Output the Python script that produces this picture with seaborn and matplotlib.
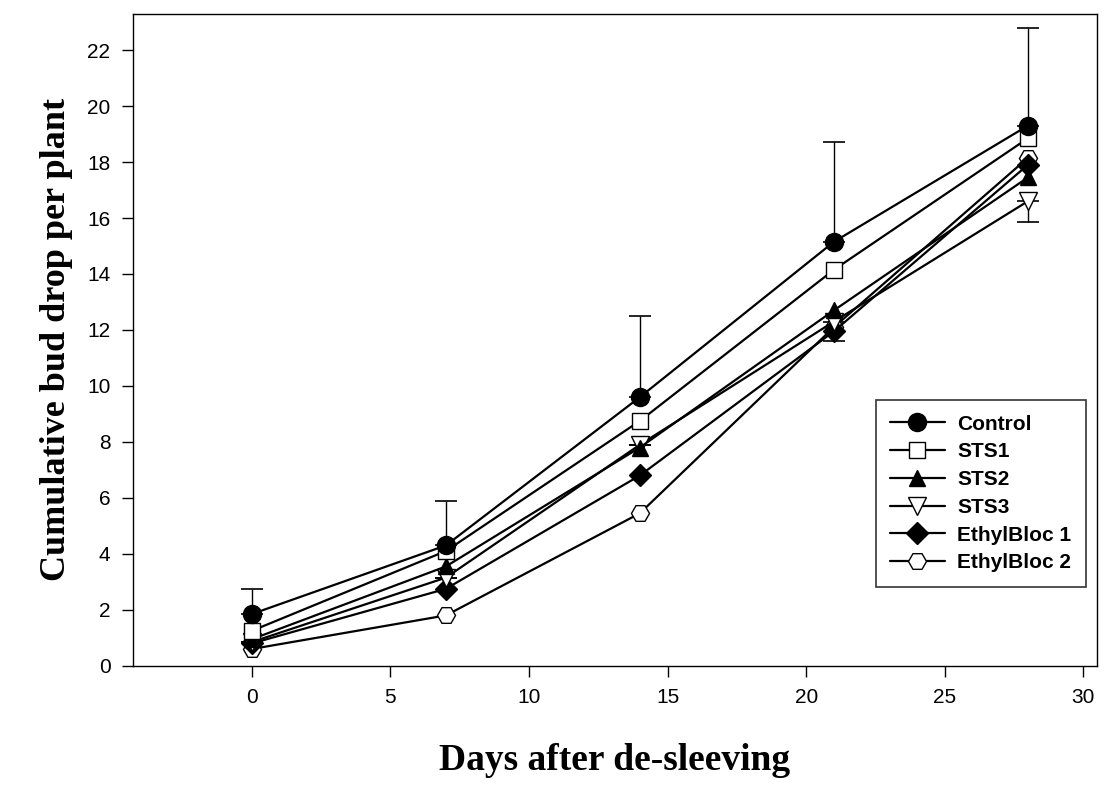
import matplotlib
matplotlib.use('Agg')
import matplotlib.pyplot as plt
import pandas as pd
import seaborn as sns

days = [0, 7, 14, 21, 28]

control = [1.85, 4.3, 9.6, 15.15, 19.3]
sts1 = [1.25, 4.1, 8.75, 14.15, 18.85]
sts2 = [0.95, 3.55, 7.8, 12.7, 17.45]
sts3 = [0.85, 3.15, 7.9, 12.3, 16.6]
ethyl1 = [0.8, 2.75, 6.8, 11.95, 17.9]
ethyl2 = [0.6, 1.8, 5.45, 12.1, 18.15]

# error bars visible in the figure (control up, STS3 down)
control_err_up = [0.9, 1.6, 2.9, 3.55, 3.5]
sts3_err_down = [0, 0, 0, 0.7, 0.75]

treatments = ['Control', 'STS1', 'STS2', 'STS3', 'EthylBloc 1', 'EthylBloc 2']
series = [control, sts1, sts2, sts3, ethyl1, ethyl2]
markers = ['o', 's', '^', 'v', 'D', 'H']
fills = ['black', 'white', 'black', 'white', 'black', 'white']
msizes = [13, 12, 12, 13, 11, 13]

df = pd.DataFrame({
    'day': days * len(treatments),
    'drop': sum(series, []),
    'treatment': [t for t in treatments for _ in days],
})

sns.set_style('ticks')
plt.rcParams['font.family'] = ['Liberation Sans', 'DejaVu Sans']
plt.rcParams['text.color'] = 'black'
plt.rcParams['axes.labelcolor'] = 'black'

fig = plt.figure(figsize=(11.06, 8.08), dpi=100)
ax = fig.add_axes([0.120, 0.176, 0.872, 0.807])

ax.errorbar(days, control, yerr=[[0] * 5, control_err_up], fmt='none',
            ecolor='black', elinewidth=1, capsize=8, capthick=1.2, zorder=1)
ax.errorbar(days, sts3, yerr=[sts3_err_down, [0] * 5], fmt='none',
            ecolor='black', elinewidth=1, capsize=8, capthick=1.2, zorder=1)

for i, t in enumerate(treatments):
    sub = df[df.treatment == t]
    sns.lineplot(data=sub, x='day', y='drop', ax=ax, color='black', lw=1.6,
                 marker=markers[i], markersize=msizes[i],
                 markerfacecolor=fills[i], markeredgecolor='black',
                 markeredgewidth=1.0, label=t, zorder=10 - i)

ax.set_xlim(-4.3, 30.5)
ax.set_ylim(0, 23.3)
ax.set_xticks([0, 5, 10, 15, 20, 25, 30])
ax.set_yticks(range(0, 23, 2))
ax.tick_params(axis='both', direction='out', length=8, width=1, labelsize=15,
               colors='black', pad=8)
for s in ax.spines.values():
    s.set_visible(True)
    s.set_linewidth(1.0)
    s.set_color('black')

ax.set_xlabel('Days after de-sleeving', fontsize=27, fontweight='bold',
              family=['Liberation Serif', 'DejaVu Serif'], labelpad=26)
ax.set_ylabel('Cumulative bud drop per plant', fontsize=26, fontweight='bold',
              family=['Liberation Serif', 'DejaVu Serif'], labelpad=10)

leg = ax.legend(loc='lower right', bbox_to_anchor=(0.999, 0.105),
                prop={'weight': 'bold', 'size': 15}, frameon=True,
                fancybox=False, edgecolor='black', handlelength=2.6,
                labelspacing=0.42, borderpad=0.7, handletextpad=0.6)
leg.get_frame().set_linewidth(1.2)

fig.savefig('out.png', dpi=100)
